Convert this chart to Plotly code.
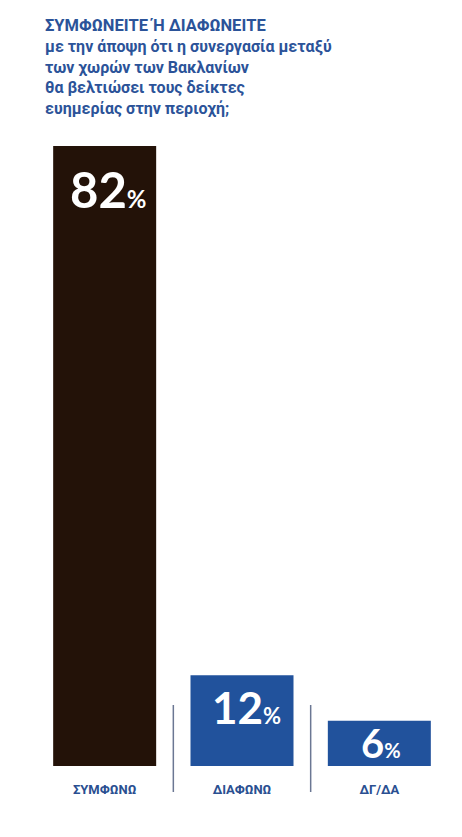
import plotly.graph_objects as go

# Data
categories = ["ΣΥΜΦΩΝΩ", "ΔΙΑΦΩΝΩ", "ΔΓ/ΔΑ"]
values = [82, 12, 6]
bar_colors = ["#231208", "#21529c", "#21529c"]
title_lines = [
    "ΣΥΜΦΩΝΕΙΤΕ Ή ΔΙΑΦΩΝΕΙΤΕ",
    "με την άποψη ότι η συνεργασία μεταξύ",
    "των χωρών των Βακλανίων",
    "θα βελτιώσει τους δείκτες",
    "ευημερίας στην περιοχή;",
]

W, H = 462, 837
top_m, bot_m = 140, 71
plot_h = H - top_m - bot_m
bar1_px = 620  # pixel height of the tallest bar
ymax = values[0] * plot_h / bar1_px

fig = go.Figure()
fig.add_trace(go.Bar(
    x=categories, y=values,
    marker=dict(color=bar_colors, line=dict(width=0)),
    hoverinfo="skip",
))

title_text = "<span style='font-size:16.5px'>" + title_lines[0] + "</span><br>" + "<br>".join(title_lines[1:])
fig.update_layout(
    width=W, height=H,
    paper_bgcolor="white", plot_bgcolor="white",
    margin=dict(l=36, r=14, t=top_m, b=bot_m),
    bargap=0.25,
    showlegend=False,
    title=dict(
        text=title_text,
        x=45 / W, xanchor="left", xref="container",
        y=1 - 31 / H, yanchor="top", yref="container",
        font=dict(family="Roboto", size=16, color="#2b5399", weight="bold"),
    ),
    xaxis=dict(
        showgrid=False, zeroline=False, showline=False, ticks="",
        tickfont=dict(family="Roboto", size=13, color="#2a4f91", weight="bold"),
        ticklabelstandoff=14,
        fixedrange=True,
    ),
    yaxis=dict(
        range=[0, ymax], showgrid=False, zeroline=False, showline=False,
        showticklabels=False, ticks="", fixedrange=True,
    ),
)

# Separators between categories
for xb in [0.5, 1.5]:
    fig.add_shape(type="line", xref="x", yref="paper",
                  x0=xb, x1=xb, y0=61 / plot_h, y1=-26 / plot_h,
                  line=dict(color="#6b7793", width=1.5))

# Value labels
num_font = dict(family="Lato", color="white", weight="bold")
for i, (c, v) in enumerate(zip(categories, values)):
    if i == 0:
        txt = f"{v}<span style='font-size:24px'>%</span>"
        fig.add_annotation(x=c, y=v, yanchor="top", yshift=-12, xshift=4, text=txt,
                           showarrow=False, font=dict(size=49, **num_font))
    elif i == 1:
        txt = f"{v}<span style='font-size:22px'>%</span>"
        fig.add_annotation(x=c, y=v, yanchor="top", yshift=-4, xshift=4, text=txt,
                           showarrow=False, font=dict(size=44, **num_font))
    else:
        txt = f"{v}<span style='font-size:20px'>%</span>"
        fig.add_annotation(x=c, y=v / 2, yanchor="middle", xshift=2, text=txt,
                           showarrow=False, font=dict(size=40, **num_font))

fig.write_html("out.html", post_script="document.body.style.margin='0';",
               config={"displayModeBar": False})
